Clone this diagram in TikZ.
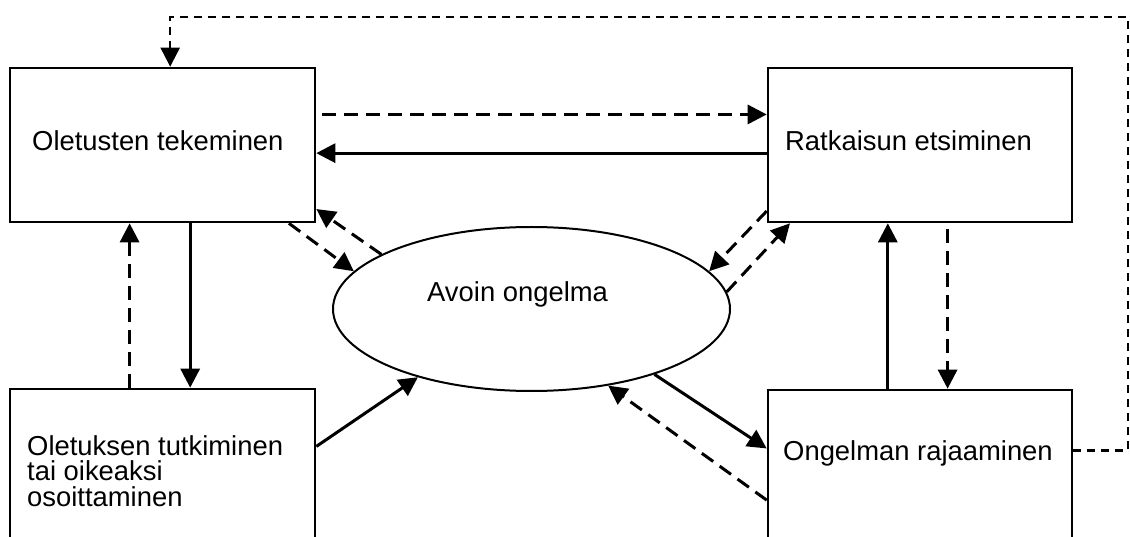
\documentclass[tikz,border=0pt]{standalone}
\usepackage{fontspec}
\setmainfont{Liberation Sans}
\usetikzlibrary{arrows.meta,calc,shapes.geometric}
\begin{document}
\begin{tikzpicture}[x=1pt,y=-1pt,
  tip/.style={-{Triangle[length=19pt,width=19pt]}},
  boxnode/.style={draw,line width=2.6pt,rectangle,minimum width=#1,inner sep=0pt},
  lbl/.style={font=\fontsize{27.4}{25.5}\selectfont,inner sep=0pt,anchor=base west},
  solidline/.style={line width=3pt,tip},
  dashline/.style={line width=3pt,dash pattern=on 14pt off 8pt,tip},
  thindash/.style={line width=2.2pt,dash pattern=on 8pt off 6pt,tip}]
\useasboundingbox (0,0) rectangle (1130,537);
\clip (0,0) rectangle (1130,537);
\fill[white] (0,0) rectangle (1130,537);
% boxes
\node[boxnode=305pt,minimum height=154pt] (tl) at (162.5,145) {};
\node[boxnode=304pt,minimum height=154pt] (tr) at (920,145) {};
\node[boxnode=305pt,minimum height=200pt] (bl) at (162.5,489) {};
\node[boxnode=304pt,minimum height=200pt] (br) at (920,490) {};
\node[draw,ellipse,line width=2pt,minimum width=397pt,minimum height=164pt,inner sep=0pt] (ell) at (531.5,309) {};
% labels
\node[lbl] (tltext) at (32,151) {Oletusten tekeminen};
\node[lbl] (trtext) at (785,151) {Ratkaisun etsiminen};
\node[lbl] (brtext) at (783,460) {Ongelman rajaaminen};
\node[lbl] (elltext) at (427,302) {Avoin ongelma};
\node[lbl,align=left] (bltext) at (27,506) {Oletuksen tutkiminen\\tai oikeaksi\\osoittaminen};
% loop
\coordinate (c1) at (1128,17);
\draw[thindash] ($(br.north east)!0.305!(br.south east)$) -| (c1) -| ($(tl.north west)!0.525!(tl.north east)$);
% top horizontal
\draw[dashline,shorten <=6pt] ($(tl.north east)!0.305!(tl.south east)$) -- ($(tr.north west)!0.305!(tr.south west)$);
\draw[solidline] ($(tr.north west)!0.552!(tr.south west)$) -- ($(tl.north east)!0.552!(tl.south east)$);
% left verticals
\draw[solidline] ($(tl.south west)!0.590!(tl.south east)$) -- ($(bl.north west)!0.590!(bl.north east)$);
\draw[dashline] ($(bl.north west)!0.393!(bl.north east)$) -- ($(tl.south west)!0.393!(tl.south east)$);
% right verticals
\draw[solidline] ($(br.north west)!0.395!(br.north east)$) -- ($(tr.south west)!0.395!(tr.south east)$);
\draw[dashline,shorten <=6pt] ($(tr.south west)!0.590!(tr.south east)$) -- ($(br.north west)!0.590!(br.north east)$);
% ellipse connections
\draw[dashline] ($(tl.south west)!0.911!(tl.south east)$) -- (ell.168);
\draw[dashline] (ell.160.5) -- ($(tl.north east)!0.909!(tl.south east)$);
\draw[dashline] ($(tr.north west)!0.922!(tr.south west)$) -- (ell.12);
\draw[dashline] (ell.5.8) -- ($(tr.south west)!0.076!(tr.south east)$);
\draw[solidline] (ell.-28) -- ($(br.north west)!0.295!(br.south west)$);
\draw[dashline] ($(br.north west)!0.55!(br.south west)$) -- (ell.-45);
\draw[solidline] ($(bl.north east)!0.29!(bl.south east)$) -- (ell.-149);
\end{tikzpicture}
\end{document}
